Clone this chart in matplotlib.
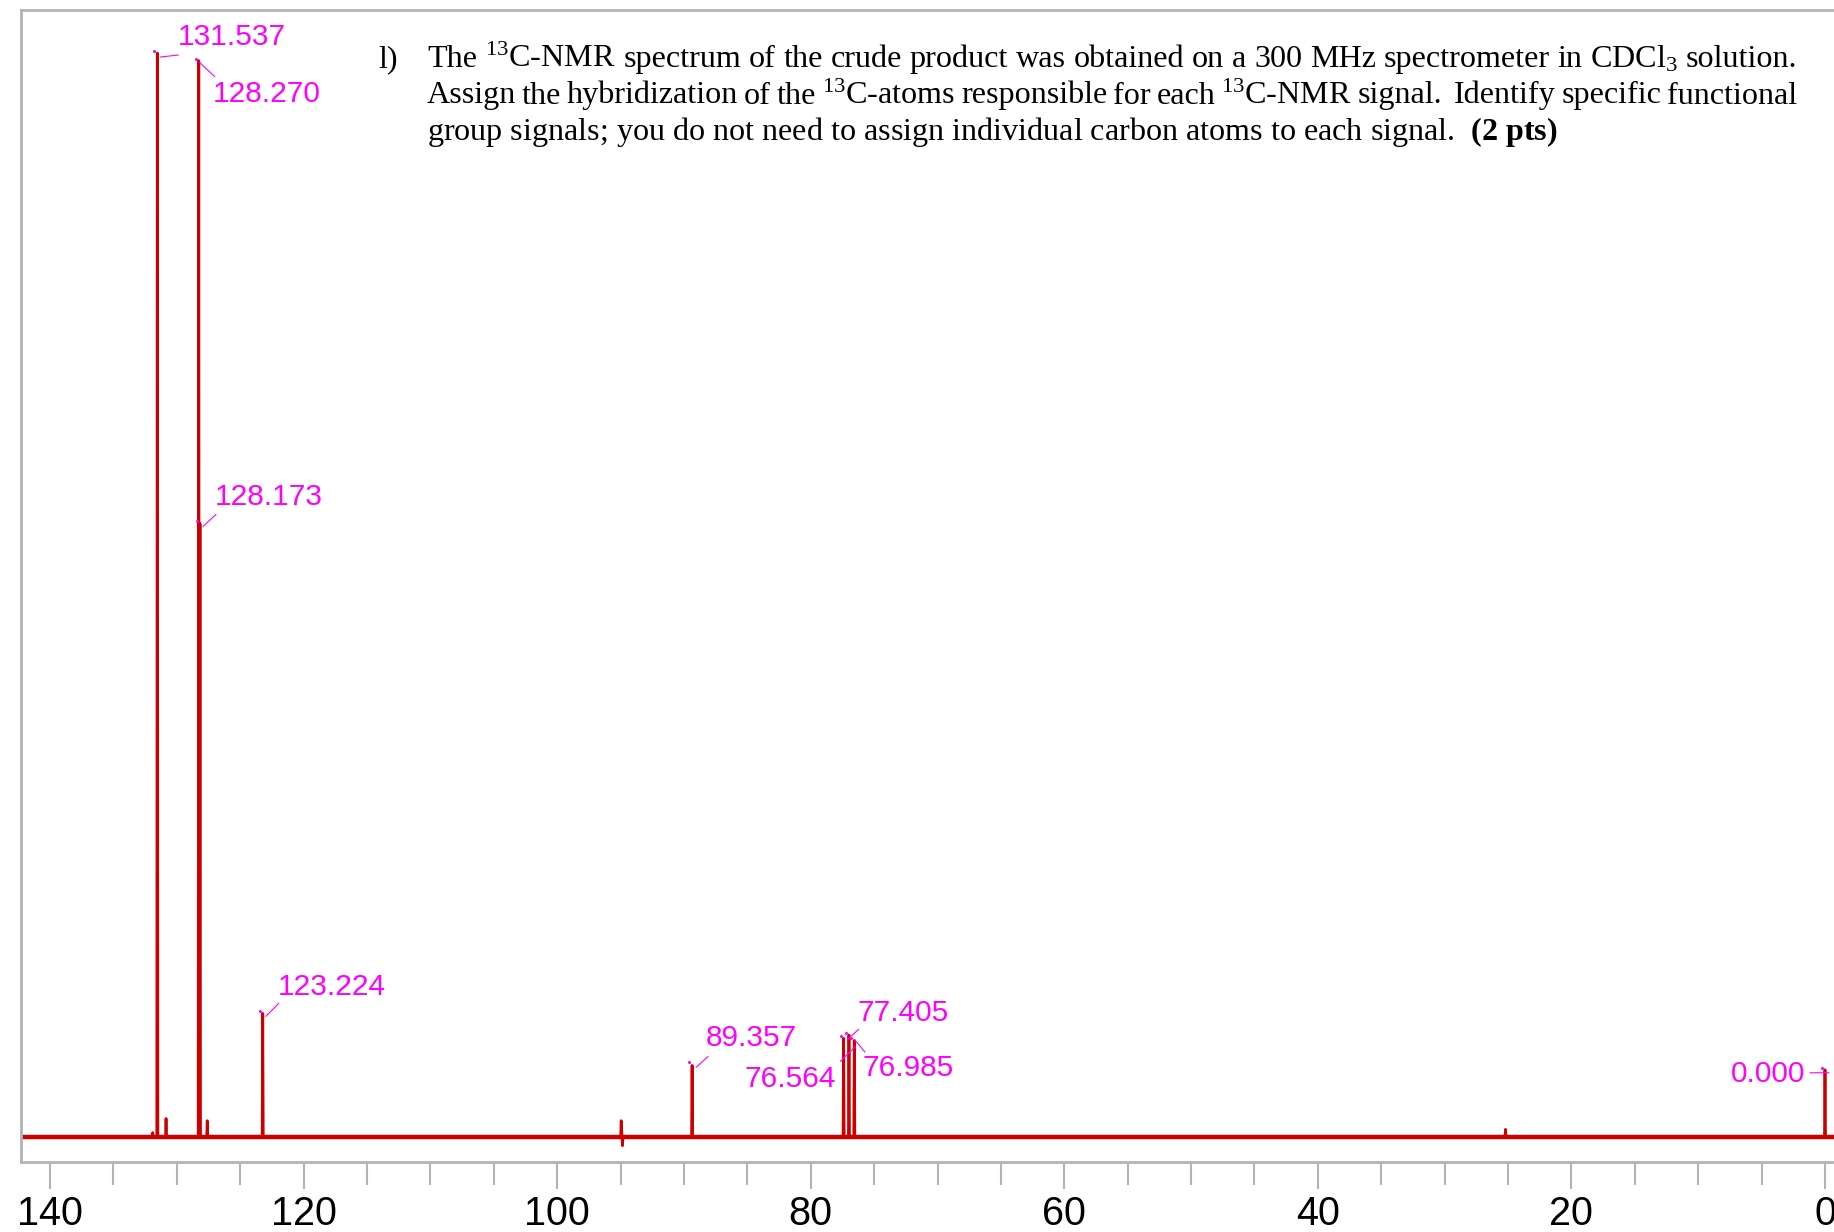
"""
13C-NMR spectrum of the crude product (CDCl3, 300 MHz)
with the picked peaks labelled in magenta.
"""
import matplotlib.pyplot as plt
from matplotlib.ticker import MultipleLocator
from matplotlib.transforms import offset_copy

plt.rcParams['font.family'] = ['Liberation Sans', 'DejaVu Sans']
plt.rcParams['mathtext.fontset'] = 'custom'
plt.rcParams['mathtext.rm'] = 'Liberation Serif'
plt.rcParams['mathtext.it'] = 'Liberation Serif:italic'
plt.rcParams['mathtext.bf'] = 'Liberation Serif:bold'

# picked peaks (ppm) and heights (tallest peak = 100)
peak_ppm = [131.537, 128.270, 128.173, 123.224, 89.357, 77.405, 76.985, 76.564, 0.000]
peak_height = [100, 99.3, 56.6, 11.4, 6.6, 9.1, 9.4, 8.9, 6.2]
peak_label = ['131.537', '128.270', '128.173', '123.224', '89.357',
              '77.405', '76.985', '76.564', '0.000']

# small unlabelled signals
minor_ppm = [131.9, 130.85, 127.6, 25.2]
minor_height = [0.4, 1.7, 1.5, 0.7]

# phase artefact near 94.9 ppm (up then down)
artefact_ppm = [94.95, 94.85]
artefact_height = [1.5, -0.8]

xtick_values = [140, 120, 100, 80, 60, 40, 20, 0]

question = [
    r"The $^{13}$C-NMR spectrum of the crude product was obtained on a 300 MHz spectrometer in CDCl$_3$ solution.",
    r"Assign the hybridization of the $^{13}$C-atoms responsible for each $^{13}$C-NMR signal.  Identify specific functional",
    r"group signals; you do not need to assign individual carbon atoms to each signal.  $\mathbf{(2\ pts)}$",
]

RED = '#cc0000'
MAGENTA = '#ff00ff'
GRAY = '#b3b3b3'

W, H = 1834, 1232
fig = plt.figure(figsize=(W / 100, H / 100), dpi=100)
ax = fig.add_axes([21 / W, 1 - 1162 / H, 1 - 21 / W, (1162 - 10) / H])

# build the trace as narrow spikes on a flat baseline
spikes = [(p, h, 'peak') for p, h in zip(peak_ppm, peak_height)]
spikes += [(p, h, 'peak') for p, h in zip(minor_ppm, minor_height)]
spikes.append((artefact_ppm[0], artefact_height[0], 'artefact'))
spikes.sort(key=lambda s: -s[0])
half = 0.04
xs, ys = [142.6], [0]
for p, h, kind in spikes:
    if kind == 'artefact':
        xs += [artefact_ppm[0] + half]
        ys += [0]
        xs += artefact_ppm
        ys += artefact_height
        xs += [artefact_ppm[-1] - half]
        ys += [0]
    else:
        xs += [p + half, p, p - half]
        ys += [0, h, 0]
xs.append(-1.0)
ys.append(0)

ax.plot([142.6, -1.0], [0, 0], color=RED, lw=3.2, solid_capstyle='butt')
ax.plot(xs, ys, color=RED, lw=2.0)

ax.set_xlim(142.29, -0.71)
ax.set_ylim(-2.31, 103.97)

# label placement, in pixels relative to the peak top:
# dot, leader start, leader end, text anchor, alignment
layout = {
    '131.537': ((-3, 2), (3, -4), (21, -2), (20, 8), 'left'),
    '128.270': ((-3, 2), (1, -2), (16, -16), (14, -41), 'left'),
    '128.173': ((-3, 2), (3, -3), (16, 9), (15, 18), 'left'),
    '123.224': ((-3, 2), (3, -3), (16, 10), (15, 18), 'left'),
    '89.357': ((-3, 3), (4, -2), (16, 9), (14, 19), 'left'),
    '77.405': ((-3, 2), (4, -1), (15, 9), (14, 17), 'left'),
    '76.985': ((-3, 2), (6, -5), (16, -17), (14, -41), 'left'),
    '76.564': ((-3, 2), (1, -6), (-14, -21), (-18, -47), 'right'),
    '0.000': ((-3, 2), (-15, -3), (4, -3), (-20, -12), 'right'),
}


def shifted(dx, dy):
    return offset_copy(ax.transData, fig=fig, x=dx, y=dy, units='dots')


for p, h, lab in zip(peak_ppm, peak_height, peak_label):
    dot, l0, l1, tpos, ha = layout[lab]
    ax.plot([p], [h], 'o', ms=2.2, color=MAGENTA, mec='none',
            transform=shifted(*dot), clip_on=False)
    ax.annotate('', xy=(p, h), xycoords=shifted(*l1),
                xytext=(p, h), textcoords=shifted(*l0),
                arrowprops=dict(arrowstyle='-', color=MAGENTA, lw=0.8,
                                shrinkA=0, shrinkB=0))
    ax.text(p, h, lab, transform=shifted(*tpos), color=MAGENTA,
            fontsize=21.5, ha=ha, va='baseline')

# axes frame and ticks
for side in ('left', 'top', 'bottom'):
    ax.spines[side].set_color(GRAY)
    ax.spines[side].set_linewidth(2.0)
ax.spines['right'].set_visible(False)
ax.set_yticks([])
ax.set_xticks(xtick_values)
ax.set_xticklabels([str(v) for v in xtick_values])
ax.xaxis.set_minor_locator(MultipleLocator(5))
ax.tick_params(axis='x', which='major', direction='out', length=19.5, width=1.5,
               color=GRAY, labelsize=28.5, pad=4.5)
ax.tick_params(axis='x', which='minor', direction='out', length=16.5, width=1.5,
               color=GRAY)

# question text: first two lines justified between x0 and x1 (pixels)
serif = ['Liberation Serif', 'DejaVu Serif']
fs = 23.1
x0, x1 = 427, 1797
base0, step = 67, 36.5
fig.text(378 / W, 1 - base0 / H, 'l)', fontsize=fs, family=serif, va='baseline')
renderer = fig.canvas.get_renderer()
for i, line in enumerate(question):
    y = 1 - (base0 + step * i) / H
    if i == len(question) - 1:
        fig.text(x0 / W, y, line, fontsize=fs, family=serif, va='baseline')
        continue
    words = line.split(' ')
    texts = [fig.text(x0 / W, y, w, fontsize=fs, family=serif, va='baseline')
             for w in words]
    widths = [t.get_window_extent(renderer).width if w else 0
              for t, w in zip(texts, words)]
    gap = (x1 - x0 - sum(widths)) / (len(words) - 1)
    x = x0
    for t, wd in zip(texts, widths):
        t.set_x(x / W)
        x += wd + gap

fig.savefig('out.png', dpi=100)
